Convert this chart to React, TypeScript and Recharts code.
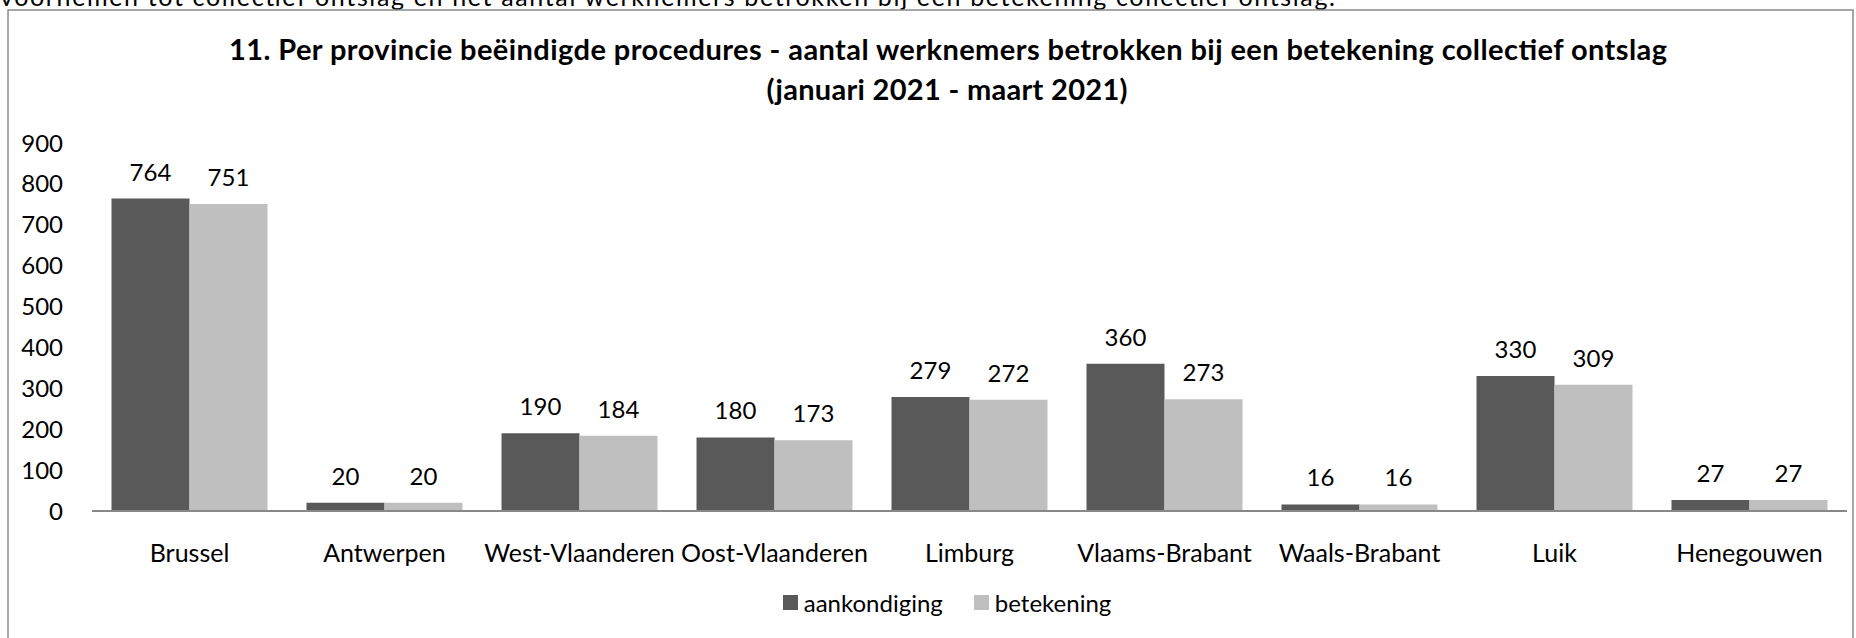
import { Bar, BarChart, LabelList, Legend, XAxis, YAxis } from 'recharts'

const categories = ['Brussel', 'Antwerpen', 'West-Vlaanderen', 'Oost-Vlaanderen', 'Limburg', 'Vlaams-Brabant', 'Waals-Brabant', 'Luik', 'Henegouwen']
const aankondiging = [764, 20, 190, 180, 279, 360, 16, 330, 27]
const betekening = [751, 20, 184, 173, 272, 273, 16, 309, 27]
const yTicks = [0, 100, 200, 300, 400, 500, 600, 700, 800, 900]

const font = 'Lato, "Open Sans", sans-serif'

const series = [
  { key: 'aankondiging', color: '#595959' },
  { key: 'betekening', color: '#bfbfbf' },
]

function LegendRow() {
  return <div style={{ display: 'flex', justifyContent: 'center', alignItems: 'center', gap: 31, fontFamily: font, fontSize: 24, color: '#000' }}>
    {series.map(s => (
      <div key={s.key} style={{ display: 'flex', alignItems: 'center', gap: 6 }}>
        <div style={{ width: 15, height: 15, background: s.color }} />
        <span>{s.key}</span>
      </div>
    ))}
  </div>
}

export default function App() {
  const data = categories.map((name, i) => ({
    name,
    aankondiging: aankondiging[i],
    betekening: betekening[i],
  }))

  return <div style={{ position: 'absolute', left: 0, top: 0, width: 1856, height: 638, overflow: 'hidden', background: '#fff' }}>
    <svg width={1856} height={638} style={{ position: 'absolute', left: 0, top: 0 }}>
      <text x={0} y={6} fontFamily={font} fontSize={25} fill="#000" textLength={1335} lengthAdjust="spacing">
        voornemen tot collectief ontslag en het aantal werknemers betrokken bij een betekening collectief ontslag.
      </text>
      <rect x={8} y={10} width={1845} height={640} fill="none" stroke="#8a8a8a" strokeWidth={1.5} />
      <text x={948} y={60} textAnchor="middle" fontFamily={font} fontWeight={700} fontSize={29} fill="#000" textLength={1438} lengthAdjust="spacing">
        11. Per provincie beëindigde procedures - aantal werknemers betrokken bij een betekening collectief ontslag
      </text>
      <text x={947} y={100} textAnchor="middle" fontFamily={font} fontWeight={700} fontSize={29} fill="#000" textLength={361} lengthAdjust="spacing">
        (januari 2021 - maart 2021)
      </text>
    </svg>
    <div style={{ position: 'absolute', left: 0, top: 0 }}>
      <BarChart width={1856} height={638} data={data} margin={{ top: 143, right: 9, left: 0, bottom: 67 }} barCategoryGap="10%" barGap={0}>
        <XAxis dataKey="name" height={60} tickLine={false} tickSize={0} tickMargin={33} axisLine={{ stroke: '#888888', strokeWidth: 2 }} tick={{ fill: '#000', fontSize: 25, fontFamily: font }} interval={0} />
        <YAxis width={92} domain={[0, 900]} ticks={yTicks} axisLine={false} tickLine={false} tickSize={0} tickMargin={29} tick={{ fill: '#000', fontSize: 24, fontFamily: font }} />
        <Legend verticalAlign="middle" align="center" wrapperStyle={{ top: 588, left: 38, width: 1818 }} content={() => <LegendRow />} />
        {series.map(s => (
          <Bar key={s.key} dataKey={s.key} fill={s.color} isAnimationActive={false}>
            <LabelList dataKey={s.key} position="top" offset={18} fill="#000" fontSize={24} fontFamily={font} />
          </Bar>
        ))}
      </BarChart>
    </div>
  </div>
}
